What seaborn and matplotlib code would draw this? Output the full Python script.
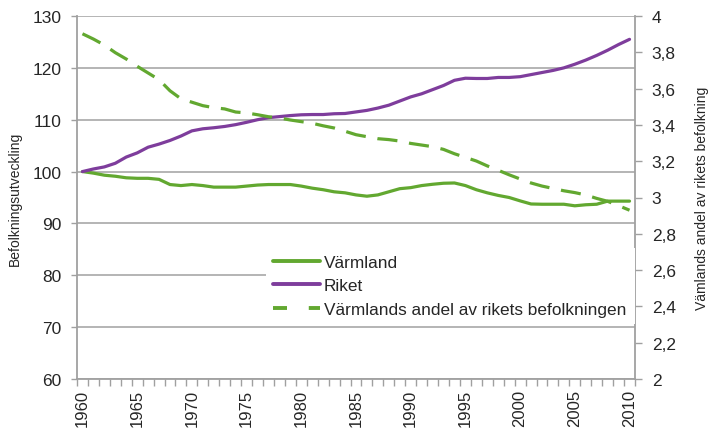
import matplotlib
matplotlib.use('Agg')
import matplotlib.pyplot as plt
from matplotlib.ticker import FuncFormatter, MultipleLocator
from matplotlib.lines import Line2D
import seaborn as sns
import pandas as pd

years = list(range(1960, 2011))

varmland = [100.0, 99.7, 99.3, 99.1, 98.8, 98.7, 98.7, 98.5, 97.5, 97.3,
            97.5, 97.3, 97.0, 97.0, 97.0, 97.2, 97.4, 97.5, 97.5, 97.5,
            97.2, 96.8, 96.5, 96.1, 95.9, 95.5, 95.25, 95.5, 96.1, 96.7,
            96.9, 97.3, 97.55, 97.75, 97.8, 97.3, 96.5, 95.9, 95.4, 95.0,
            94.35, 93.75, 93.7, 93.7, 93.7, 93.4, 93.6, 93.7, 94.3, 94.3,
            94.3]

riket = [100.0, 100.5, 100.9, 101.6, 102.8, 103.6, 104.7, 105.3, 106.0, 106.85,
         107.85, 108.25, 108.45, 108.7, 109.05, 109.5, 110.0, 110.4, 110.6, 110.8,
         110.95, 111.0, 111.0, 111.15, 111.2, 111.5, 111.8, 112.25, 112.8, 113.6,
         114.4, 115.0, 115.8, 116.6, 117.6, 118.0, 117.95, 117.95, 118.15, 118.15,
         118.3, 118.7, 119.1, 119.5, 120.0, 120.7, 121.5, 122.4, 123.4, 124.5,
         125.5]

andel = [3.902, 3.873, 3.840, 3.798, 3.763, 3.723, 3.686, 3.649, 3.588, 3.544,
         3.525, 3.506, 3.495, 3.488, 3.471, 3.466, 3.456, 3.445, 3.438, 3.427,
         3.418, 3.409, 3.395, 3.383, 3.365, 3.346, 3.335, 3.324, 3.319, 3.311,
         3.298, 3.289, 3.280, 3.265, 3.241, 3.221, 3.201, 3.174, 3.150, 3.125,
         3.102, 3.080, 3.063, 3.050, 3.037, 3.027, 3.014, 2.995, 2.979, 2.955,
         2.930]

labels = ['Värmland', 'Riket', 'Värmlands andel av rikets befolkningen']

df = pd.DataFrame({'year': years, 'varmland': varmland, 'riket': riket, 'andel': andel})

sns.set_style('white')
plt.rcParams['font.family'] = ['Liberation Sans', 'DejaVu Sans']

green = '#62a830'
purple = '#7e3d9c'
grey = '#a0a0a0'

fig = plt.figure(figsize=(7.14, 4.31), dpi=100)
ax = fig.add_axes([77 / 714, 51 / 431, 558 / 714, 363 / 431])
ax2 = ax.twinx()

sns.lineplot(data=df, x='year', y='varmland', ax=ax, color=green, linewidth=2.3)
sns.lineplot(data=df, x='year', y='riket', ax=ax, color=purple, linewidth=2.3)
sns.lineplot(data=df, x='year', y='andel', ax=ax2, color=green, linewidth=2.3,
             dashes=False)
ax2.lines[0].set_dashes((6.3, 3.7))

# left axis
ax.set_xlim(1959.5, 2010.5)
ax.set_ylim(60, 130)
ax.set_yticks(range(60, 131, 10))
ax.yaxis.grid(True, color=grey, linewidth=1.1)
ax.xaxis.grid(False)
ax.set_ylabel('Befolkningsutveckling', fontsize=10, labelpad=8)
ax.set_xlabel('')
ax.tick_params(axis='y', which='major', left=True, length=4, width=1, color=grey,
               labelsize=12.5, pad=7)

# x ticks: labels every 5 years, small marks between years
ax.set_xticks(range(1960, 2011, 5))
ax.set_xticklabels([str(y) for y in range(1960, 2011, 5)], rotation=90, fontsize=12)
ax.xaxis.set_minor_locator(MultipleLocator(1, offset=0.5))
ax.tick_params(axis='x', which='major', bottom=True, length=0, pad=7)
ax.tick_params(axis='x', which='minor', bottom=True, length=5, width=1, color=grey)

for side in ['top', 'right']:
    ax.spines[side].set_visible(False)
for side in ['left', 'bottom']:
    ax.spines[side].set_color(grey)
    ax.spines[side].set_linewidth(1.3)

# right axis
ax2.set_ylim(2, 4)
ax2.yaxis.set_major_locator(MultipleLocator(0.2))
ax2.yaxis.set_major_formatter(FuncFormatter(lambda v, p: f'{v:g}'.replace('.', ',')))
ax2.set_ylabel('Vämlands andel av rikets befolkning', fontsize=10, labelpad=14)
ax2.tick_params(axis='y', right=True, length=5, width=1, color=grey, labelsize=12.5, pad=7)
ax2.grid(False)
for side in ['top', 'left', 'bottom']:
    ax2.spines[side].set_visible(False)
ax2.spines['right'].set_color(grey)
ax2.spines['right'].set_linewidth(1.3)

handles = [Line2D([], [], color=green, linewidth=2.8),
           Line2D([], [], color=purple, linewidth=2.8),
           Line2D([], [], color=green, linewidth=2.8, dashes=(3.6, 5.6))]
leg = ax2.legend(handles, labels, loc='lower left', bbox_to_anchor=(0.339, 0.152, 0.661, 0.2),
                 mode='expand', fontsize=12.4, frameon=True, facecolor='white',
                 edgecolor='none', fancybox=False, framealpha=1, borderaxespad=0,
                 borderpad=0.4, handlelength=2.7, handletextpad=0.25, labelspacing=0.5)

fig.savefig('out.png', dpi=100)
